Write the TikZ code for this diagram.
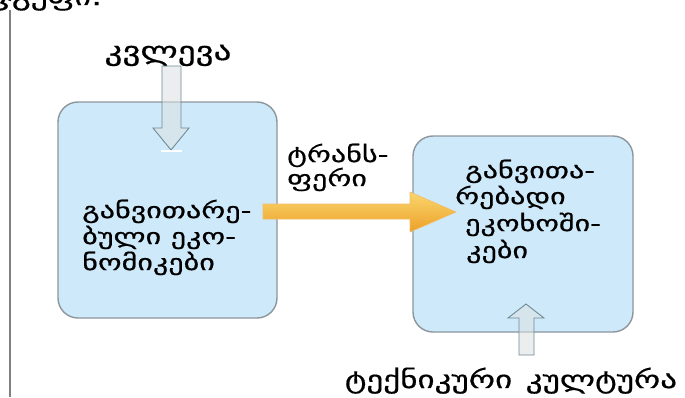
\documentclass[tikz,border=0pt]{standalone}
\usepackage{fontspec}
\setmainfont{DejaVu Sans}
\newfontfamily\geobody[FakeStretch=1.37, FakeBold=0.6]{DejaVu Sans}
\newfontfamily\geolabel[FakeStretch=1.35, FakeBold=0.6]{DejaVu Sans}
\usetikzlibrary{calc}
\definecolor{boxfill}{RGB}{206,233,250}
\definecolor{boxedge}{RGB}{140,150,156}
\definecolor{arrowedge}{RGB}{110,140,150}
\definecolor{shaftgray}{RGB}{222,224,226}
\definecolor{flowtop}{RGB}{250,214,110}
\definecolor{flowbot}{RGB}{236,160,40}
\definecolor{rulegray}{RGB}{128,128,128}
\tikzset{
  panel/.style={draw=boxedge, line width=1.4pt, fill=boxfill, rounded corners=20pt},
  body/.style={font=\geobody\fontsize{22}{26}\selectfont, inner sep=0pt, anchor=base west},
  caption/.style={font=\geolabel\fontsize{26}{30}\selectfont, inner sep=0pt, anchor=base},
  hollow/.style={draw=arrowedge, line width=0.9pt, fill=shaftgray, fill opacity=0.55},
  flow/.style={draw=flowbot!70, line width=0.6pt, top color=flowtop, bottom color=flowbot},
}
\begin{document}
\begin{tikzpicture}[x=1pt, y=-1pt]
\useasboundingbox (0,0) rectangle (685,397);
\fill[white] (0,0) rectangle (685,397);

% page rule on the left and the heading above it, running off the top
\draw[rulegray, line width=2pt] (10,10) -- (10,397);
\node[body, font=\geolabel\fontsize{24}{28}\selectfont] (head) at (-3,5) {ჯგუფი:};

% the two panels
\draw[panel] (58,102) rectangle (277,318);
\draw[panel] (413,136) rectangle (633,332);

% left panel text
\node[body] (dev1) at (82,218) {განვითარე-};
\node[body] (dev2) at (82,244) {ბული ეკო-};
\node[body] (dev3) at (82,270) {ნომიკები};

% right panel text
\node[body] (dvg1) at (465,178) {განვითა-};
\node[body] (dvg2) at (455,204) {რებადი};
\node[body] (dvg3) at (465,231) {ეკოხოში-};
\node[body] (dvg4) at (466,258) {კები};

% incoming research arrow
\node[caption] (res) at (168,60) {კვლევა};
\draw[hollow] (162,66) -- (162,128) -- (153,128) -- (171,150) -- (189,128)
  -- (181,128) -- (181,66) -- cycle;
\draw[white, line width=2pt] (161,151) -- (182,151);

% transfer arrow between the panels
\node[body] (tr1) at (287,162) {ტრანს-};
\node[body] (tr2) at (287,186) {ფერი};
\draw[flow] (263,204) -- (410,204) -- (410,192) -- (456,212) -- (410,232)
  -- (410,219) -- (263,219) -- cycle;

% incoming technical culture arrow
\node[caption, font=\geolabel\fontsize{24.5}{30}\selectfont] (tech) at (511,388)
  {ტექნიკური\hspace{3pt} კულტურა};
\draw[hollow] (519,355) -- (519,318) -- (508,318) -- (526,304) -- (544,318)
  -- (534,318) -- (534,355) -- cycle;
\end{tikzpicture}
\end{document}
